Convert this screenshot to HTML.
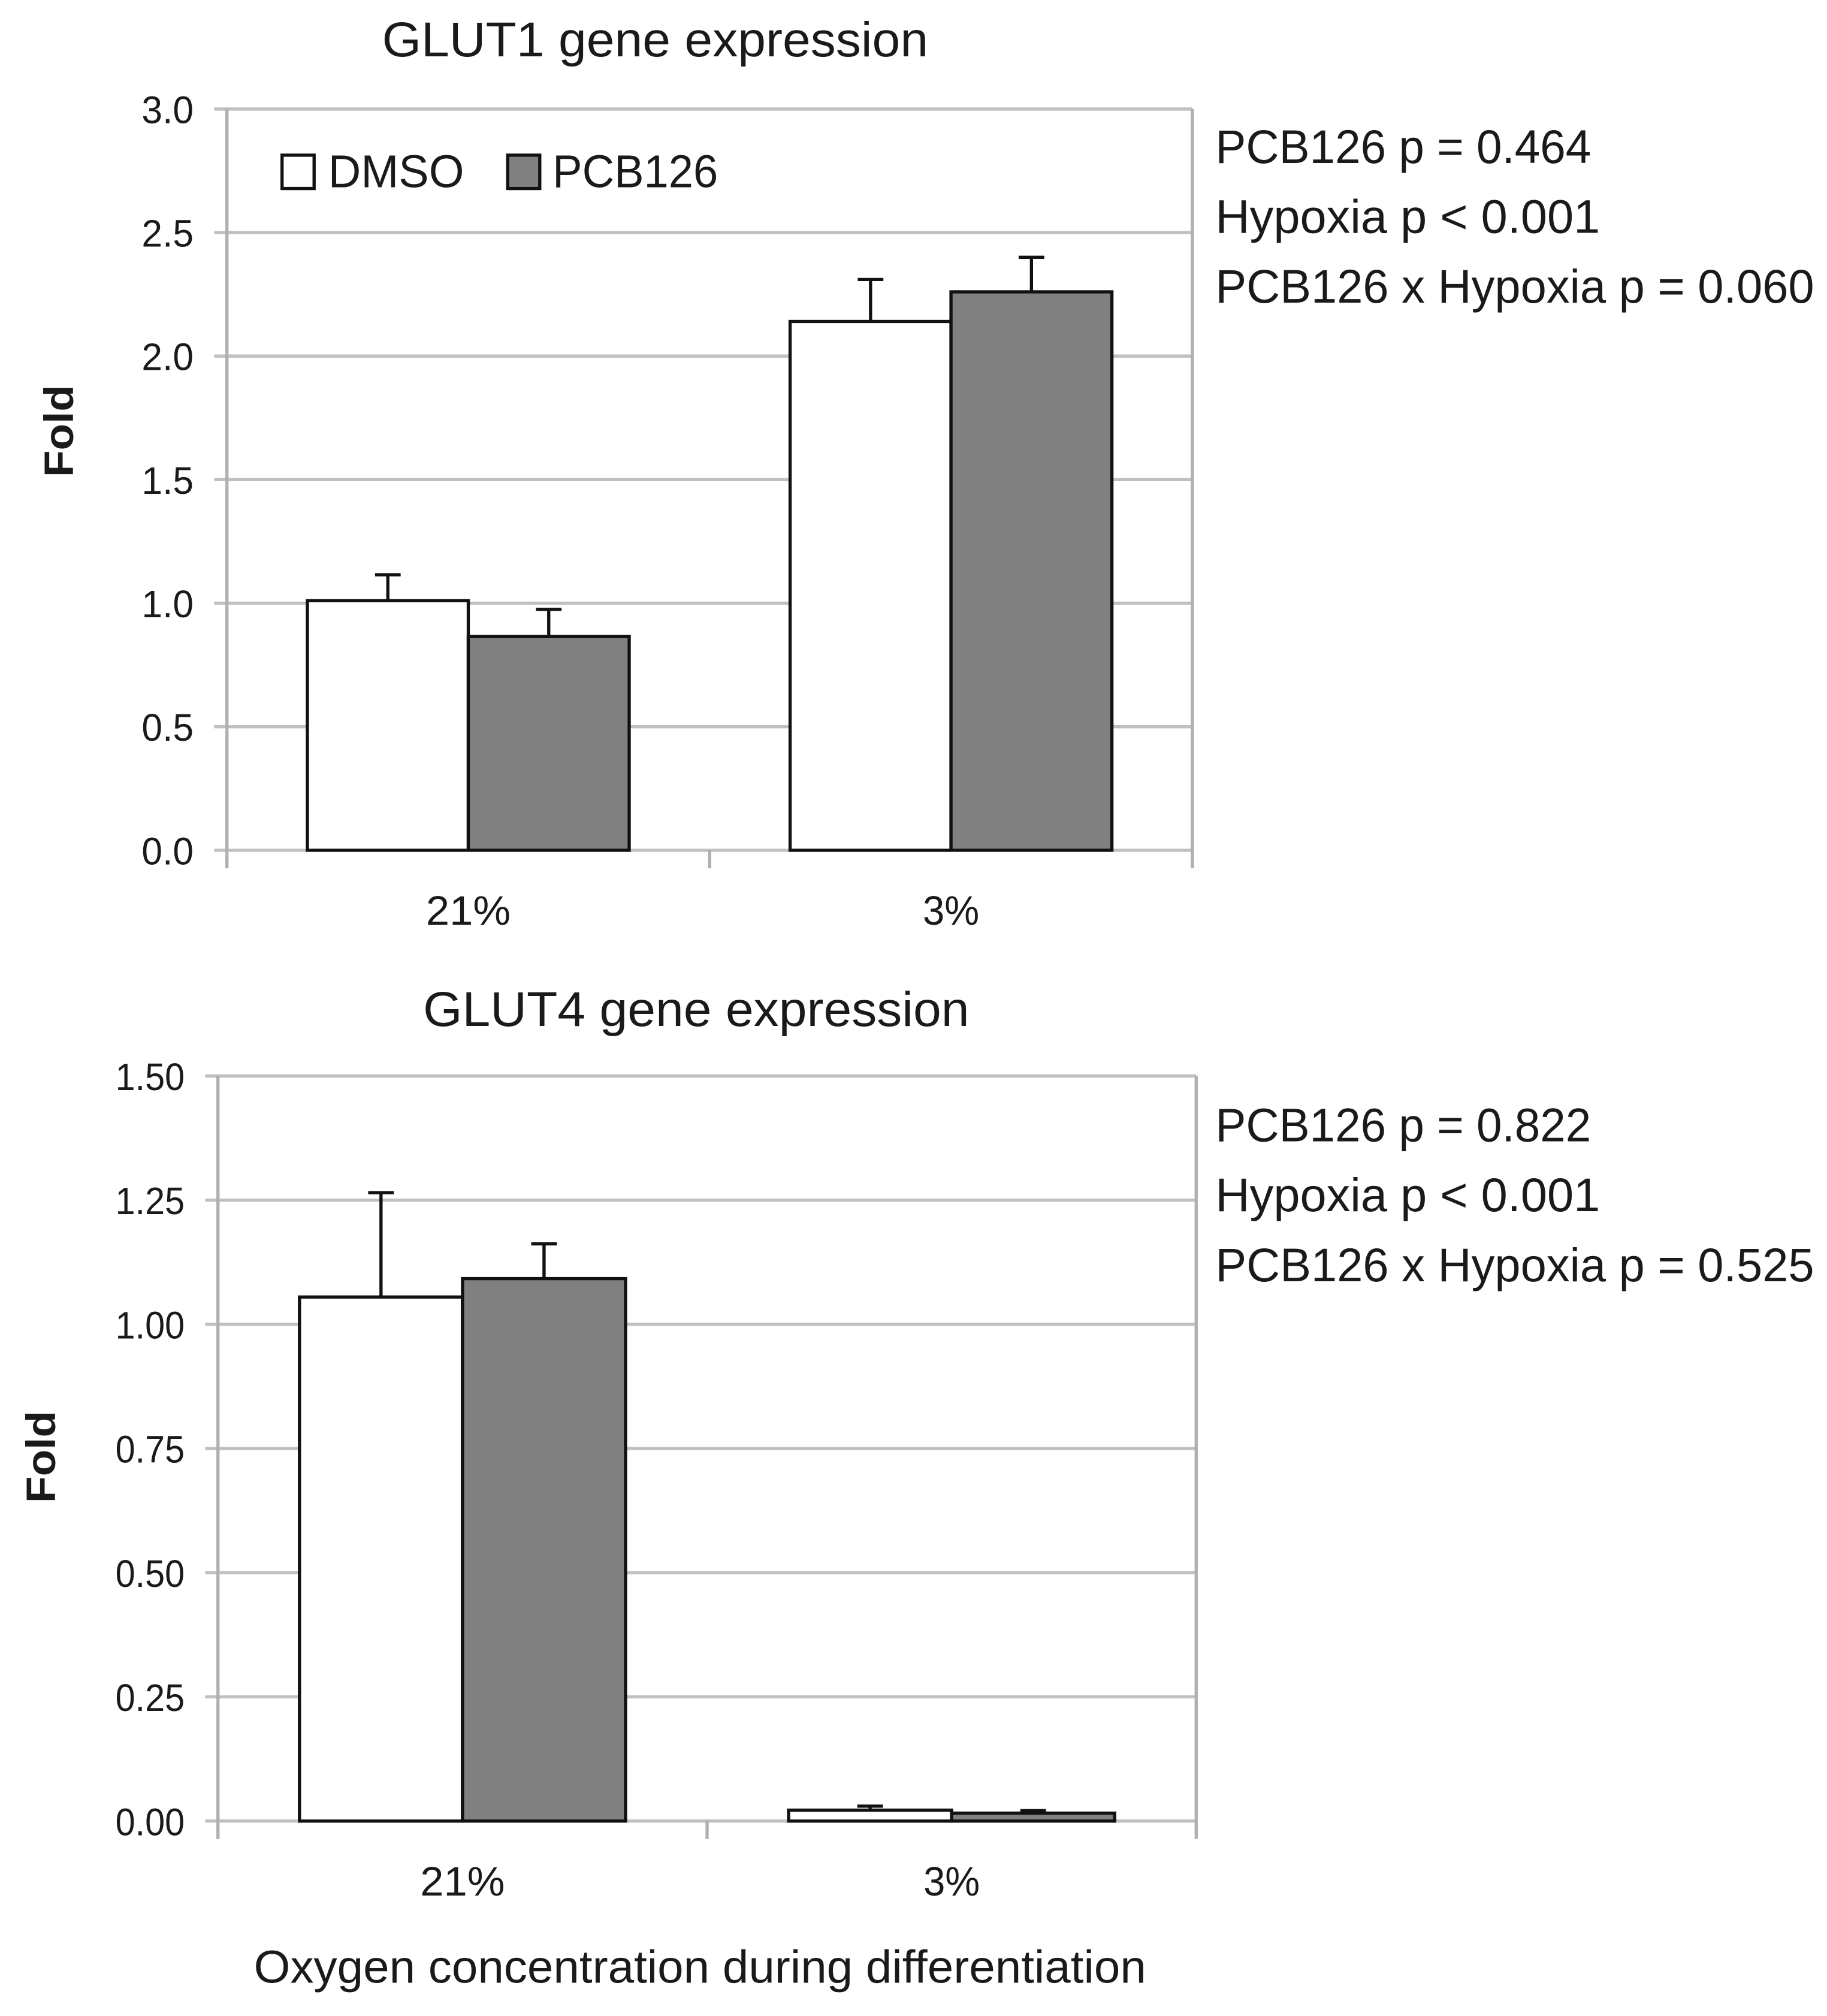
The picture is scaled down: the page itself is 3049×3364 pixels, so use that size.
<!DOCTYPE html>
<html><head><meta charset="utf-8"><style>
html,body{margin:0;padding:0;background:#fff}
svg{display:block}
text{font-family:"Liberation Sans Narrow","Liberation Sans",sans-serif;fill:#1a1a1a}
</style></head><body>
<svg id="fig" width="3049" height="3364" viewBox="0 0 1425 1572" preserveAspectRatio="none" xmlns="http://www.w3.org/2000/svg"></svg>
<script>
const categories = ["21%", "3%"];
const seriesNames = ["DMSO", "PCB126"];
const glut1Dmso = [1.01, 2.14];
const glut1DmsoErr = [0.105, 0.17];
const glut1Pcb = [0.865, 2.26];
const glut1PcbErr = [0.11, 0.14];
const glut1Ticks = ["0.0","0.5","1.0","1.5","2.0","2.5","3.0"];
const glut4Dmso = [1.055, 0.022];
const glut4DmsoErr = [0.21, 0.008];
const glut4Pcb = [1.092, 0.016];
const glut4PcbErr = [0.07, 0.005];
const glut4Ticks = ["0.00","0.25","0.50","0.75","1.00","1.25","1.50"];
const glut1Stats = ["PCB126 p = 0.464","Hypoxia p < 0.001","PCB126 x Hypoxia p = 0.060"];
const glut4Stats = ["PCB126 p = 0.822","Hypoxia p < 0.001","PCB126 x Hypoxia p = 0.525"];

const NS = "http://www.w3.org/2000/svg";
const svg = document.getElementById('fig');
function mk(tag, attrs, parent, txt){
  const e = document.createElementNS(NS, tag);
  for (const k in attrs) e.setAttribute(k, attrs[k]);
  if (txt !== undefined) e.textContent = txt;
  (parent || svg).appendChild(e);
  return e;
}
const statW = [293, 300, 467];

function chart(cfg){
  const g = mk('g', {});
  
  
  const ymax = parseFloat(cfg.ticks[cfg.ticks.length-1]);
  const y = v => cfg.y0 - (v / ymax) * (cfg.y0 - cfg.yTop);
  const catW = (cfg.x1 - cfg.x0) / categories.length;
  const barW = catW / 3;
  const bx = (ci, si) => cfg.x0 + ci*catW + catW/6 + si*barW;

  const t = mk('text', {x: cfg.titleX, y: cfg.titleY, 'font-size': 38, 'text-anchor': 'middle', textLength: 426, lengthAdjust: 'spacingAndGlyphs'}, g, cfg.title);
  
  

  cfg.ticks.forEach((lab, i) => {
    const v = parseFloat(lab);
    const yy = y(v);
    const gl = mk('line', {x1: cfg.x0 - 10, x2: cfg.x1, y1: yy, y2: yy, stroke: '#c0c0c0', 'stroke-width': 2.5}, g);
    
    
    const tl = mk('text', {x: cfg.x0 - 26, y: yy + 11, 'font-size': 30, 'text-anchor': 'end', textLength: lab.length * 13.5, lengthAdjust: 'spacingAndGlyphs'}, g, lab);
    
    
  });
  mk('line', {x1: cfg.x0, x2: cfg.x0, y1: cfg.yTop, y2: cfg.y0 + 14, stroke: '#b0b0b0', 'stroke-width': 2.5}, g);
  mk('line', {x1: cfg.x1, x2: cfg.x1, y1: cfg.yTop, y2: cfg.y0 + 14, stroke: '#b0b0b0', 'stroke-width': 2.5}, g);
  const mid = mk('line', {x1: cfg.x0 + catW, x2: cfg.x0 + catW, y1: cfg.y0, y2: cfg.y0 + 14, stroke: '#b0b0b0', 'stroke-width': 2.5}, g);
  
  

  const series = [[cfg.d, cfg.de, '#ffffff'], [cfg.p, cfg.pe, '#808080']];
  categories.forEach((c, ci) => {
    series.forEach((s, si) => {
      const v = s[0][ci], e = s[1][ci];
      const x = bx(ci, si);
      const cx = x + barW/2;
      const eb = mk('g', {}, g);
      
      
      mk('line', {x1: cx, x2: cx, y1: y(v), y2: y(v+e), stroke: '#111', 'stroke-width': 2.5}, eb);
      mk('line', {x1: cx - 10, x2: cx + 10, y1: y(v+e), y2: y(v+e), stroke: '#111', 'stroke-width': 2.5}, eb);
      const r = mk('rect', {x: x, y: y(v), width: barW, height: cfg.y0 - y(v), fill: s[2], stroke: '#111', 'stroke-width': 2.5}, g);
      
      
    });
    const xl = mk('text', {x: cfg.x0 + ci*catW + catW/2, y: cfg.y0 + 58, 'font-size': 32, 'text-anchor': 'middle', textLength: c.length * 22, lengthAdjust: 'spacingAndGlyphs'}, g, c);
    
    
  });

  const fl = mk('text', {x: 0, y: 0, 'font-size': 32, 'font-weight': 'bold', 'text-anchor': 'middle', textLength: 72, lengthAdjust: 'spacingAndGlyphs', transform: `translate(${cfg.foldX},${cfg.foldY}) rotate(-90)`, style: 'font-family:"Liberation Sans",sans-serif'}, g, 'Fold');
  
  

  cfg.stats.forEach((s, i) => {
    const st = mk('text', {x: 948, y: cfg.statY + i*54.5, 'font-size': 37, textLength: statW[i], lengthAdjust: 'spacingAndGlyphs'}, g, s);
    
    
  });
}

chart({name:'glut1-chart', title:'GLUT1 gene expression', titleX:511, titleY:44, x0:177, x1:930, yTop:85, y0:663,
  ticks: glut1Ticks, d: glut1Dmso, de: glut1DmsoErr, p: glut1Pcb, pe: glut1PcbErr, stats: glut1Stats, statY:127, foldX:57, foldY:336});
chart({name:'glut4-chart', title:'GLUT4 gene expression', titleX:543, titleY:800, x0:170, x1:933, yTop:839, y0:1420,
  ticks: glut4Ticks, d: glut4Dmso, de: glut4DmsoErr, p: glut4Pcb, pe: glut4PcbErr, stats: glut4Stats, statY:890, foldX:43, foldY:1136});

// legend
const lg = mk('g', {});


const l1 = mk('g', {}, lg);


mk('rect', {x: 220, y: 121, width: 25, height: 26, fill: '#fff', stroke: '#111', 'stroke-width': 2.5}, l1);
mk('text', {x: 256, y: 146, 'font-size': 36, textLength: 106, lengthAdjust: 'spacingAndGlyphs'}, l1, seriesNames[0]);
const l2 = mk('g', {}, lg);


mk('rect', {x: 396, y: 121, width: 25, height: 26, fill: '#808080', stroke: '#111', 'stroke-width': 2.5}, l2);
mk('text', {x: 431, y: 146, 'font-size': 36, textLength: 129, lengthAdjust: 'spacingAndGlyphs'}, l2, seriesNames[1]);

const xt = mk('text', {x: 546, y: 1546, 'font-size': 36, 'text-anchor': 'middle', textLength: 696, lengthAdjust: 'spacingAndGlyphs'}, svg, 'Oxygen concentration during differentiation');


</script>
</body></html>
